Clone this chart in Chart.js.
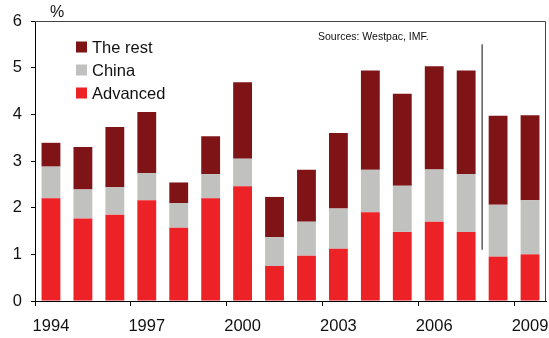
<!DOCTYPE html>
<html>
<head>
<meta charset="utf-8">
<script src="https://cdn.jsdelivr.net/npm/chart.js@4.4.1/dist/chart.umd.min.js"></script>
<style>
  html, body { margin: 0; padding: 0; background: #fff; }
  #wrap { width: 549px; height: 338px; }
</style>
</head>
<body>
<div id="wrap"><canvas id="crecimientoChart" width="549" height="338"></canvas></div>
<script>
    // Datos: contribución al crecimiento mundial (%)
    const years = ['1994','1995','1996','1997','1998','1999','2000','2001','2002','2003','2004','2005','2006','2007','2008','2009'];
    const advanced = [2.20, 1.77, 1.85, 2.16, 1.57, 2.20, 2.46, 0.75, 0.97, 1.12, 1.90, 1.48, 1.70, 1.48, 0.95, 1.00];
    const china    = [0.68, 0.62, 0.59, 0.58, 0.53, 0.52, 0.59, 0.62, 0.73, 0.86, 0.91, 0.99, 1.12, 1.24, 1.11, 1.16];
    const theRest  = [0.51, 0.91, 1.29, 1.31, 0.44, 0.81, 1.64, 0.86, 1.11, 1.62, 2.13, 1.97, 2.21, 2.22, 1.91, 1.82];
    const yTicks = [0, 1, 2, 3, 4, 5, 6];
    // Línea que separa datos históricos de proyecciones (entre 2007 y 2008)
    const separador = { entre: ['2007', '2008'], desde: 1.1, hasta: 5.5 };
    const fuente = 'Sources: Westpac, IMF.';

    const colores = {
        advanced: '#ec2227',
        china: '#c1c1bf',
        rest: '#7e1416'
    };
    const fuenteBase = 'Liberation Sans, Arial, sans-serif';

    // Marco superior/derecho, leyenda interna, texto de fuente y separador
    const extras = {
        id: 'extras',
        afterDraw(chart) {
            const { ctx, chartArea: a, scales } = chart;
            ctx.save();
            ctx.strokeStyle = '#444';
            ctx.lineWidth = 1;
            ctx.beginPath();
            ctx.moveTo(a.left, a.top + 0.5);
            ctx.lineTo(a.right - 0.5, a.top + 0.5);
            ctx.lineTo(a.right - 0.5, a.bottom);
            ctx.stroke();

            // separador de proyección
            const i1 = years.indexOf(separador.entre[0]);
            const i2 = years.indexOf(separador.entre[1]);
            const xs = (scales.x.getPixelForValue(i1) + scales.x.getPixelForValue(i2)) / 2;
            ctx.strokeStyle = '#333';
            ctx.lineWidth = 1.2;
            ctx.beginPath();
            ctx.moveTo(xs, scales.y.getPixelForValue(separador.hasta));
            ctx.lineTo(xs, scales.y.getPixelForValue(separador.desde));
            ctx.stroke();

            // fuente
            ctx.fillStyle = '#111';
            ctx.font = '10.5px ' + fuenteBase;
            ctx.textBaseline = 'middle';
            ctx.textAlign = 'left';
            ctx.fillText(fuente, a.left + 283, a.top + 16);

            // símbolo de unidad
            ctx.font = '16px ' + fuenteBase;
            ctx.fillText('%', a.left + 15, a.top - 8);

            // leyenda (orden inverso)
            const items = chart.data.datasets.slice().reverse();
            ctx.font = '16.5px ' + fuenteBase;
            items.forEach((ds, k) => {
                const cy = a.top + 26 + k * 23;
                ctx.fillStyle = ds.backgroundColor;
                ctx.fillRect(a.left + 41, cy - 5.5, 11, 11);
                ctx.fillStyle = '#111';
                ctx.fillText(ds.label, a.left + 57, cy + 1);
            });
            ctx.restore();
        }
    };

    const ctx = document.getElementById('crecimientoChart').getContext('2d');
    const myChart = new Chart(ctx, {
        type: 'bar',
        data: {
            labels: years,
            datasets: [
                { label: 'Advanced', data: advanced, backgroundColor: colores.advanced },
                { label: 'China', data: china, backgroundColor: colores.china },
                { label: 'The rest', data: theRest, backgroundColor: colores.rest }
            ]
        },
        options: {
            responsive: false,
            animation: false,
            layout: { padding: { top: 21, right: 3, left: 0, bottom: 0 } },
            datasets: {
                bar: { barPercentage: 0.59, categoryPercentage: 1.0 }
            },
            plugins: {
                legend: { display: false },
                tooltip: { enabled: false }
            },
            scales: {
                x: {
                    stacked: true,
                    afterFit: (s) => {
                        s.height = 37;
                        s.paddingLeft = 0;
                        s.paddingRight = 0;
                    },
                    border: { color: '#000', width: 1 },
                    grid: {
                        drawOnChartArea: false,
                        drawTicks: true,
                        tickLength: 5,
                        color: (c) => (c.index % 3 === 0 ? '#000' : 'rgba(0,0,0,0)')
                    },
                    ticks: {
                        autoSkip: false,
                        maxRotation: 0,
                        padding: 11,
                        color: '#111',
                        font: { family: fuenteBase, size: 16.5 },
                        callback: function (v, i) { return i % 3 === 0 ? years[i] : ''; }
                    }
                },
                y: {
                    stacked: true,
                    min: 0,
                    max: 6,
                    afterFit: (s) => {
                        s.width = 35;
                        s.paddingTop = 0;
                        s.paddingBottom = 0;
                    },
                    afterBuildTicks: (s) => { s.ticks = yTicks.map(v => ({ value: v })); },
                    border: { color: '#000', width: 1 },
                    grid: {
                        drawOnChartArea: false,
                        drawTicks: true,
                        tickLength: 4,
                        color: '#000'
                    },
                    ticks: {
                        padding: 9,
                        color: '#111',
                        font: { family: fuenteBase, size: 16.5 }
                    }
                }
            }
        },
        plugins: [extras]
    });
</script>
</body>
</html>
